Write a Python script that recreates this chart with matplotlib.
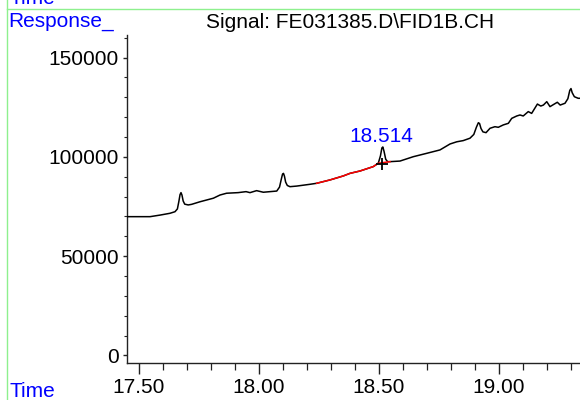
import matplotlib
matplotlib.use("Agg")
import matplotlib.pyplot as plt
from matplotlib.ticker import MultipleLocator, FixedLocator
from matplotlib.lines import Line2D

plt.rcParams['font.family'] = ['Liberation Sans', 'DejaVu Sans']

# ---- data ----
time = [17.450, 17.546, 17.588, 17.629, 17.650, 17.660, 17.666, 17.671, 17.675, 17.679,
        17.684, 17.6905, 17.705, 17.719, 17.754, 17.782, 17.810, 17.8375, 17.865, 17.913,
        17.946, 17.9625, 17.990, 18.018, 18.074, 18.0855, 18.093, 18.098, 18.102, 18.106,
        18.111, 18.118, 18.129, 18.157, 18.2125, 18.240, 18.296, 18.351, 18.379, 18.421,
        18.476, 18.497, 18.506, 18.512, 18.516, 18.521, 18.528, 18.536, 18.546, 18.5875,
        18.643, 18.699, 18.754, 18.796, 18.824, 18.851, 18.879, 18.895, 18.906, 18.914,
        18.919, 18.925, 18.933, 18.946, 18.9625, 18.983, 18.997, 19.018, 19.039, 19.053,
        19.074, 19.0875, 19.101, 19.122, 19.136, 19.160, 19.174, 19.185, 19.199, 19.2125,
        19.229, 19.243, 19.255, 19.275, 19.287, 19.295, 19.300, 19.305, 19.314, 19.330,
        19.3375]
response = [69900, 69900, 70700, 71600, 72400, 73800, 77500, 81000, 82000, 80800,
            77800, 76200, 75800, 76100, 77400, 78300, 79200, 80800, 81700, 82000,
            82500, 82000, 83000, 82200, 82800, 84800, 88800, 91300, 91700, 90300,
            87300, 85600, 85000, 85300, 86200, 86700, 88400, 90400, 91700, 92900,
            95100, 96800, 100500, 104500, 105000, 102800, 98800, 97600, 97600, 97900,
            100100, 101800, 103500, 106500, 107600, 108200, 109400, 111300, 115000, 117200,
            116800, 114300, 112600, 112200, 114400, 115200, 114900, 116100, 116900, 119400,
            120600, 121100, 120600, 122800, 121900, 126600, 125600, 126100, 127800, 125300,
            126500, 127500, 126100, 127000, 129300, 133500, 134400, 132300, 130300, 129500,
            129500]

baseline_time = [18.240, 18.296, 18.351, 18.379, 18.421, 18.476, 18.497, 18.546]
baseline_resp = [86700, 88400, 90400, 91700, 92900, 95100, 96800, 97600]

peak_rt = 18.514
peak_mark_resp = 96600
peak_label = "18.514"
peak_label_resp = 110300

x_major = [17.5, 18.0, 18.5, 19.0]
x_labels = ["17.50", "18.00", "18.50", "19.00"]
y_major = [0, 50000, 100000, 150000]
y_labels = ["0", "50000", "100000", "150000"]

title = "Signal: FE031385.D\\FID1B.CH"

# ---- figure ----
W, H = 580, 400
fig = plt.figure(figsize=(W / 100, H / 100), dpi=100)
ax = fig.add_axes([127 / W, (H - 363) / H, (W - 127) / W, (363 - 35) / H])

ax.plot(time, response, color='black', lw=1.1, zorder=3)
ax.plot(baseline_time, baseline_resp, color='#ff0000', lw=1.1, zorder=4)
ax.plot([peak_rt], [peak_mark_resp], marker='+', color='black', ms=8, mew=1.3, zorder=5)
ax.text(peak_rt - 0.006, peak_label_resp, peak_label, color='#0000ff', fontsize=15,
        ha='center', va='center')

ax.set_xlim(17.45, 19.3375)
ax.set_ylim(-3780, 161370)

ax.xaxis.set_major_locator(FixedLocator(x_major))
ax.set_xticklabels(x_labels)
ax.xaxis.set_minor_locator(MultipleLocator(0.1))
ax.yaxis.set_major_locator(FixedLocator(y_major))
ax.set_yticklabels(y_labels)
ax.yaxis.set_minor_locator(MultipleLocator(10000))

for s in ['top', 'right']:
    ax.spines[s].set_visible(False)
for s in ['left', 'bottom']:
    ax.spines[s].set_color('#222222')
    ax.spines[s].set_linewidth(1.0)

ax.tick_params(axis='x', which='major', direction='out', length=8, width=1.0,
               labelsize=15, pad=3, colors='#222222', labelcolor='black')
ax.tick_params(axis='x', which='minor', direction='out', length=5, width=0.9, colors='#222222')
ax.tick_params(axis='y', which='major', direction='out', length=3, width=1.0,
               labelsize=15, pad=3, colors='#222222', labelcolor='black')
ax.tick_params(axis='y', which='minor', direction='out', length=2, width=0.8, colors='#222222')

# frame decorations
green = '#8ef08e'
fig.add_artist(Line2D([7 / W, 7 / W], [0, 1], color=green, lw=1.0, transform=fig.transFigure))
fig.add_artist(Line2D([7 / W, 1], [1 - 8.5 / H, 1 - 8.5 / H], color=green, lw=1.0,
                      transform=fig.transFigure))

fig.text(9 / W, 1 - 4 / H, "Time", color='#0000ff', fontsize=15, ha='left', va='baseline')
fig.text(8 / W, 1 - 26.5 / H, "Response_", color='#0000ff', fontsize=15, ha='left', va='baseline')
fig.text(9 / W, 3 / H, "Time", color='#0000ff', fontsize=15, ha='left', va='baseline')
fig.text(206 / W, 1 - 28 / H, title, color='black', fontsize=15, ha='left', va='baseline')

fig.savefig("out.png", dpi=100)
